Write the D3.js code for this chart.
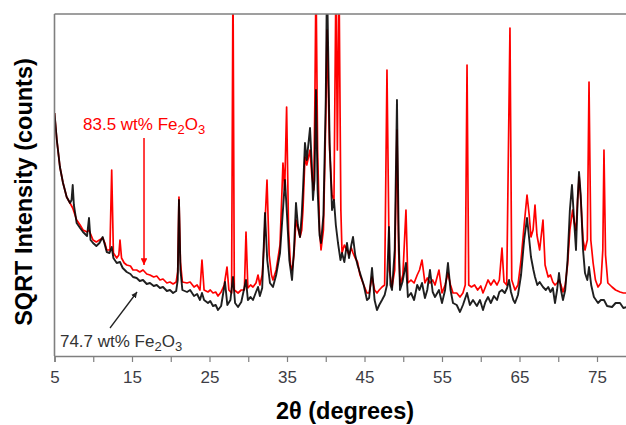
<!DOCTYPE html>
<html>
<head>
<meta charset="utf-8">
<script src="https://cdn.jsdelivr.net/npm/d3@7"></script>
<style>
  body { margin: 0; background: #fff; }
  svg { display: block; font-family: "Liberation Sans", Arial, sans-serif; }
</style>
</head>
<body>
<div id="chart-area"></div>
<script>
// XRD patterns, [2theta (deg), sqrt intensity]
var black747 = [
  [5.0,243],[5.3,216],[5.7,189],[6.1,173],[6.57,159],[7.0,153],[7.2,156],[7.35,171],[7.5,151],
  [7.86,133],[8.3,128],[8.68,124],[9.2,120],[9.45,138],[9.65,116],[9.97,113],[10.4,110],[10.8,113],
  [11.22,119],[11.5,111],[11.74,104],[12.1,103],[12.38,109],[12.6,98],[13.03,93],[13.45,94],[13.8,88],
  [14.32,84],[14.8,82],[15.13,79],[15.6,78],[16.0,75],[16.42,76],[16.9,72],[17.32,73],[17.8,70],
  [18.19,71],[18.61,68],[19.0,69],[19.5,65],[19.9,66],[20.3,63],[20.7,65],[20.9,76],[21.06,156],
  [21.25,86],[21.5,66],[22.1,64],[22.5,66],[23.0,60],[23.4,62],[23.77,56],[24.03,63],[24.3,56],
  [24.8,53],[25.1,55],[25.45,50],[25.8,51],[26.1,46],[26.5,50],[27.0,74],[27.3,51],[27.7,56],
  [28.03,79],[28.3,53],[28.68,49],[29.1,54],[29.71,76],[29.95,56],[30.3,59],[30.61,56],[31.0,64],
  [31.26,69],[31.5,60],[31.8,68],[32.16,143],[32.45,96],[32.8,73],[33.19,69],[33.6,81],[34.1,103],
  [34.74,176],[35.0,141],[35.3,96],[35.65,76],[35.9,106],[36.16,153],[36.4,131],[36.68,119],
  [36.9,141],[37.06,166],[37.32,213],[37.55,196],[37.97,228],[38.2,191],[38.35,156],[38.55,176],
  [38.74,266],[38.95,166],[39.2,121],[39.39,113],[39.7,141],[40.0,256],[40.16,380],[40.5,213],
  [40.81,146],[41.06,156],[41.3,131],[41.58,113],[41.9,96],[42.1,103],[42.4,94],[42.74,113],
  [43.0,98],[43.3,111],[43.52,119],[43.8,101],[44.1,91],[44.42,83],[44.9,71],[45.32,56],[45.6,58],
  [45.97,88],[46.3,56],[46.61,46],[46.9,51],[47.26,56],[47.6,61],[47.9,71],[48.16,129],[48.35,71],
  [48.55,66],[48.9,106],[49.19,256],[49.4,126],[49.58,66],[49.9,74],[50.35,93],[50.6,59],[51.0,63],
  [51.4,56],[51.8,71],[52.1,66],[52.42,73],[52.8,58],[53.1,66],[53.45,86],[53.8,64],[54.1,59],
  [54.61,66],[55.0,53],[55.4,66],[55.77,93],[56.1,66],[56.42,53],[56.9,51],[57.32,44],[57.7,51],
  [58.23,63],[58.6,51],[59.0,56],[59.5,50],[59.9,56],[60.29,46],[60.6,54],[60.94,59],[61.3,53],
  [61.7,60],[62.1,56],[62.4,64],[62.74,66],[63.1,63],[63.4,68],[63.65,76],[63.9,64],[64.2,56],
  [64.42,53],[64.8,61],[65.2,81],[65.6,116],[65.97,138],[66.2,121],[66.48,99],[66.8,86],[67.0,79],
  [67.3,71],[67.6,74],[68.03,69],[68.4,66],[68.7,69],[69.0,64],[69.3,68],[69.58,53],[69.85,66],
  [70.1,83],[70.35,66],[70.61,56],[70.9,66],[71.2,96],[71.5,146],[71.77,171],[72.0,141],[72.29,106],
  [72.5,156],[72.68,184],[72.9,161],[73.2,106],[73.45,83],[73.75,76],[73.97,89],[74.25,71],
  [74.6,59],[75.13,53],[75.5,56],[75.9,56],[76.3,50],[76.94,49],[77.4,53],[77.97,53],[78.4,48],
  [78.8,49],[79.3,50]
];

var red835 = [
  [5.0,243],[5.3,216],[5.7,189],[6.1,173],[6.57,159],[7.0,153],[7.35,148],[7.86,136],[8.3,131],
  [8.68,126],[9.2,124],[9.45,126],[9.97,116],[10.4,114],[10.8,116],[11.22,118],[11.5,113],
  [11.74,106],[12.15,106],[12.38,186],[12.6,103],[13.03,98],[13.3,101],[13.45,116],[13.65,98],
  [14.0,93],[14.32,91],[14.8,90],[15.13,86],[15.6,86],[16.0,84],[16.42,86],[16.9,82],[17.32,81],
  [17.8,79],[18.19,80],[18.61,76],[19.0,77],[19.5,73],[19.9,74],[20.3,72],[20.7,74],[20.9,84],
  [21.06,159],[21.25,94],[21.5,74],[22.1,73],[22.5,74],[23.0,69],[23.4,71],[23.77,66],[24.03,96],
  [24.3,66],[24.8,64],[25.1,66],[25.45,63],[25.8,64],[26.1,60],[26.5,64],[26.9,71],[27.26,89],
  [27.5,66],[27.85,63],[28.03,380],[28.2,66],[28.68,63],[29.1,66],[29.5,66],[29.71,124],[29.95,68],
  [30.3,71],[30.61,69],[31.0,73],[31.26,81],[31.5,71],[31.8,81],[32.0,106],[32.42,176],[32.7,101],
  [33.0,81],[33.19,76],[33.6,86],[34.1,111],[34.48,193],[34.7,166],[34.95,249],[35.2,126],
  [35.45,91],[35.65,86],[35.9,101],[36.16,136],[36.4,128],[36.68,119],[36.9,126],[37.06,146],
  [37.32,199],[37.55,191],[37.97,206],[38.2,181],[38.45,166],[38.6,256],[38.74,380],[38.95,206],
  [39.2,126],[39.39,106],[39.7,126],[40.0,236],[40.16,326],[40.5,206],[40.81,161],[41.06,156],
  [41.32,380],[41.5,206],[41.71,380],[41.95,146],[42.1,103],[42.4,111],[42.74,106],[43.0,101],
  [43.3,108],[43.52,103],[43.8,98],[44.1,94],[44.42,81],[44.9,71],[45.32,63],[45.6,63],[45.97,79],
  [46.3,66],[46.61,63],[46.9,66],[47.26,69],[47.6,71],[47.9,286],[48.2,86],[48.55,69],[48.9,86],
  [49.19,226],[49.4,106],[49.6,71],[49.95,81],[50.35,146],[50.6,73],[51.0,76],[51.4,73],[51.8,81],
  [52.1,86],[52.42,96],[52.8,73],[53.1,78],[53.45,73],[53.8,76],[54.1,71],[54.61,86],[55.0,63],
  [55.4,71],[55.77,83],[56.1,71],[56.42,63],[56.9,63],[57.32,59],[57.7,63],[58.0,71],[58.23,291],
  [58.45,71],[58.8,69],[59.2,71],[59.6,66],[60.0,70],[60.29,63],[60.6,69],[60.94,76],[61.3,71],
  [61.7,76],[62.1,71],[62.4,76],[62.74,108],[63.0,74],[63.35,71],[63.77,328],[64.0,76],[64.42,66],
  [64.8,71],[65.2,96],[65.6,131],[65.97,161],[66.25,141],[66.48,119],[66.75,126],[67.0,151],
  [67.25,121],[67.6,106],[68.03,136],[68.3,91],[68.7,79],[69.0,81],[69.3,74],[69.58,71],[69.85,73],
  [70.1,76],[70.35,71],[70.61,64],[70.9,71],[71.2,91],[71.5,126],[71.85,146],[72.05,134],[72.29,126],
  [72.5,156],[72.7,179],[72.95,151],[73.2,116],[73.45,106],[73.75,116],[73.97,274],[74.2,116],
  [74.5,93],[74.8,76],[75.13,69],[75.5,73],[75.75,106],[75.9,206],[76.1,101],[76.4,73],[76.94,69],
  [77.4,66],[77.97,64],[78.4,63],[78.8,63],[79.3,62]
];

var majorTicks = [5, 15, 25, 35, 45, 55, 65, 75];
var minorTicks = [10, 20, 30, 40, 50, 60, 70, 80];

// annotation anchors in data units
var redLabel = { text: "83.5 wt% Fe", x: 8.68, y: 226, arrowX: 16.55, arrowFrom: 218, arrowTo: 91 };
var blackLabel = { text: "74.7 wt% Fe", x: 5.7, y: 9, fromX: 12.16, fromY: 28, toX: 15.65, toY: 64 };

var width = 626, height = 425;
var margin = { left: 54.5, top: 14, bottom: 69 };

var svg = d3.select("#chart-area").append("svg")
    .attr("width", width)
    .attr("height", height);

var x = d3.scaleLinear()
    .domain([5, 80])
    .range([margin.left, margin.left + 75 * 7.75]);

var y = d3.scaleLinear()
    .domain([0, 342])
    .range([height - margin.bottom, margin.top]);

var defs = svg.append("defs");
defs.append("clipPath").attr("id", "plot-clip")
  .append("rect")
    .attr("x", margin.left)
    .attr("y", margin.top)
    .attr("width", width - margin.left)
    .attr("height", y(0) - margin.top);

["red", "#222"].forEach(function(c, i){
    defs.append("marker")
        .attr("id", "head" + i)
        .attr("viewBox", "0 0 10 10")
        .attr("refX", 10).attr("refY", 5)
        .attr("markerWidth", 4.5).attr("markerHeight", 4.5)
        .attr("markerUnits", "strokeWidth")
        .attr("orient", "auto")
      .append("path")
        .attr("d", "M0,0 L10,5 L0,10 z")
        .attr("fill", c);
});

var line = d3.line()
    .x(function(d){ return x(d[0]); })
    .y(function(d){ return y(d[1]); });

var plot = svg.append("g").attr("clip-path", "url(#plot-clip)");

plot.append("path")
    .datum(red835)
    .attr("fill", "none")
    .attr("stroke", "#ff0000")
    .attr("stroke-width", 1.7)
    .attr("stroke-linejoin", "round")
    .attr("d", line);

plot.append("path")
    .datum(black747)
    .attr("fill", "none")
    .attr("stroke", "#000")
    .attr("stroke-opacity", 0.88)
    .attr("stroke-width", 1.9)
    .attr("stroke-linejoin", "round")
    .attr("d", line);

// frame
var axisColor = "#7f7f7f";
svg.append("line")
    .attr("x1", margin.left).attr("x2", width)
    .attr("y1", margin.top).attr("y2", margin.top)
    .attr("stroke", axisColor).attr("stroke-width", 1.6);
svg.append("line")
    .attr("x1", margin.left).attr("x2", margin.left)
    .attr("y1", margin.top).attr("y2", y(0))
    .attr("stroke", axisColor).attr("stroke-width", 1.6);

var xAxis = d3.axisBottom(x)
    .tickValues(majorTicks.concat(minorTicks))
    .tickSize(6)
    .tickPadding(9)
    .tickFormat(function(d){ return majorTicks.indexOf(d) >= 0 ? d : ""; });

var gx = svg.append("g")
    .attr("transform", "translate(0," + y(0) + ")")
    .call(xAxis);
gx.select(".domain").attr("stroke", axisColor).attr("stroke-width", 1.6);
gx.selectAll(".tick line").attr("stroke", axisColor).attr("stroke-width", 1.2);
gx.selectAll(".tick text")
    .attr("fill", "#3d3d45")
    .style("font-size", "17px")
    .style("font-family", "'Liberation Sans', Arial, sans-serif");

// axis titles
svg.append("text")
    .attr("transform", "translate(32,192) rotate(-90)")
    .attr("text-anchor", "middle")
    .attr("font-weight", "bold")
    .attr("font-size", 23.5)
    .attr("fill", "#000")
    .text("SQRT Intensity (counts)");

svg.append("text")
    .attr("x", 345).attr("y", 419)
    .attr("text-anchor", "middle")
    .attr("font-weight", "bold")
    .attr("font-size", 23.5)
    .attr("fill", "#000")
    .text("2θ (degrees)");

// annotations
function chem(sel, txt){
    sel.append("tspan").text(txt);
    sel.append("tspan").attr("dy", 4).attr("font-size", 13).text("2");
    sel.append("tspan").attr("dy", -4).text("O");
    sel.append("tspan").attr("dy", 4).attr("font-size", 13).text("3");
}

svg.append("text")
    .attr("x", x(redLabel.x)).attr("y", y(redLabel.y))
    .attr("font-size", 17)
    .attr("fill", "#ff0000")
    .call(chem, redLabel.text);

svg.append("line")
    .attr("x1", x(redLabel.arrowX)).attr("x2", x(redLabel.arrowX))
    .attr("y1", y(redLabel.arrowFrom)).attr("y2", y(redLabel.arrowTo))
    .attr("stroke", "#ff0000").attr("stroke-width", 1.5)
    .attr("marker-end", "url(#head0)");

svg.append("text")
    .attr("x", x(blackLabel.x)).attr("y", y(blackLabel.y))
    .attr("font-size", 17)
    .attr("fill", "#333")
    .call(chem, blackLabel.text);

svg.append("line")
    .attr("x1", x(blackLabel.fromX)).attr("x2", x(blackLabel.toX))
    .attr("y1", y(blackLabel.fromY)).attr("y2", y(blackLabel.toY))
    .attr("stroke", "#222").attr("stroke-width", 1.3)
    .attr("marker-end", "url(#head1)");
</script>
</body>
</html>
